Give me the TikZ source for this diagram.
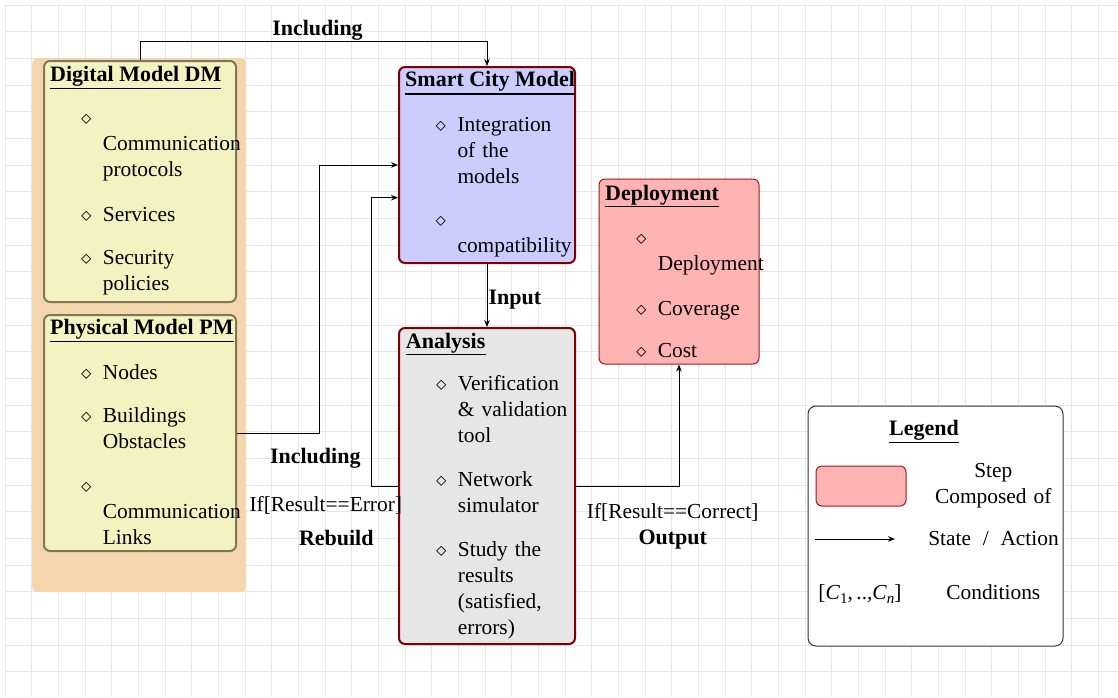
\documentclass[tikz,border=0pt]{standalone}
\usepackage{fontspec}
\setmainfont{Liberation Serif}
\usetikzlibrary{arrows.meta,calc}

\definecolor{gridgray}{HTML}{E6E6E6}
\definecolor{groupfill}{HTML}{F5D5AC}
\definecolor{modelfill}{HTML}{F3F3C1}
\definecolor{modeldraw}{HTML}{7D7A5A}
\definecolor{darkmaroon}{HTML}{7F0000}
\definecolor{cityfill}{HTML}{CCCCFF}
\definecolor{anafill}{HTML}{E6E6E6}
\definecolor{stepfill}{HTML}{FFB3B3}
\definecolor{stepdraw}{HTML}{A01818}
\definecolor{legenddraw}{HTML}{333333}

% hollow diamond hanging to the left of an item
\newcommand\diaitem{\llap{$\diamond$\hskip 11.5pt}}
% italic index written in text fonts
\newcommand\lowidx[1]{\raisebox{-4.5pt}{\fontsize{15}{15}\selectfont #1}}

\tikzset{
  gridline/.style={draw=gridgray, line width=1pt},
  box/.style={rectangle, rounded corners=6pt, anchor=north west, inner sep=0pt},
  groupbox/.style={box, fill=groupfill},
  modelbox/.style={box, fill=modelfill, draw=modeldraw, line width=2pt},
  citybox/.style={box, fill=cityfill, draw=darkmaroon, line width=2pt},
  anabox/.style={box, fill=anafill, draw=darkmaroon, line width=2pt},
  stepbox/.style={box, fill=stepfill, draw=stepdraw, line width=1pt},
  legendbox/.style={box, fill=white, draw=legenddraw, line width=1pt, rounded corners=8pt},
  ttl/.style={anchor=base west, inner sep=0pt, font=\fontsize{22}{26}\selectfont\bfseries},
  itm/.style={anchor=base west, inner sep=0pt, text width=170pt, align=left,
              font=\fontsize{21.4}{26}\selectfont},
  lbl/.style={anchor=base, inner sep=0pt, font=\fontsize{21.4}{26}\selectfont},
  blbl/.style={lbl, font=\fontsize{22}{26}\selectfont\bfseries},
  uline/.style={draw=black, line width=1.2pt},
  conn/.style={draw=black, line width=0.9pt, -{Stealth[length=7pt,width=5.5pt]}},
}

\begin{document}
\begin{tikzpicture}[x=1pt, y=-1pt]
  \useasboundingbox (0,0) rectangle (1118,697);
  \fill[white] (0,0) rectangle (1118,697);

  % background grid
  \foreach \i in {0,...,41} {\draw[gridline] ({5+26.667*\i},5) -- ({5+26.667*\i},697);}
  \foreach \j in {0,...,25} {\draw[gridline] (5,{5+26.667*\j}) -- (1118,{5+26.667*\j});}

  % ---- model group ----
  \node[groupbox, minimum width=214pt, minimum height=534pt] (group) at (32,58) {};

  \node[modelbox, minimum width=192pt, minimum height=241pt] (dm) at (43,60) {};
  \node[ttl] (dmt) at (50,81) {Digital Model DM};
  \draw[uline] ($(dmt.base west)+(0,7.3)$) -- ($(dmt.base east)+(0,7.3)$);
  \node[itm] (dm1) at (102.7,124.5) {\diaitem\\Communication\\protocols};
  \node[itm] (dm2) at (102.7,221) {\diaitem Services};
  \node[itm] (dm3) at (102.7,264) {\diaitem Security\\policies};

  \node[modelbox, minimum width=192pt, minimum height=236pt] (pm) at (43,314) {};
  \node[ttl] (pmt) at (50,334.3) {Physical Model PM};
  \draw[uline] ($(pmt.base west)+(0,7.3)$) -- ($(pmt.base east)+(0,7.3)$);
  \node[itm] (pm1) at (102.7,379) {\diaitem Nodes};
  \node[itm] (pm2) at (102.7,422.3) {\diaitem Buildings\\Obstacles};
  \node[itm] (pm3) at (102.7,492) {\diaitem\\Communication\\Links};

  % ---- smart city model ----
  \node[citybox, minimum width=176pt, minimum height=196pt] (scm) at (398,66) {};
  \node[ttl] (scmt) at (405,86.7) {Smart City Model};
  \draw[uline] ($(scmt.base west)+(0,7.3)$) -- ($(scmt.base east)+(0,7.3)$);
  \node[itm] (scm1) at (457.3,131.7) {\diaitem Integration\\of the\\models};
  \node[itm] (scm2) at (457.3,226) {\diaitem\\compatibility};

  % ---- analysis ----
  \node[anabox, minimum width=176pt, minimum height=316pt] (ana) at (398,327) {};
  \node[ttl] (anat) at (405.7,348.3) {Analysis};
  \draw[uline] ($(anat.base west)+(0,6.3)$) -- ($(anat.base east)+(0,6.3)$);
  \node[itm] (ana1) at (457.7,390.7) {\diaitem Verification\\\& validation\\tool};
  \node[itm] (ana2) at (457.7,486.7) {\diaitem Network\\simulator};
  \node[itm] (ana3) at (457.7,556) {\diaitem Study the\\results\\(satisfied,\\errors)};

  % ---- deployment ----
  \node[stepbox, minimum width=160pt, minimum height=185pt] (dep) at (598.5,178.5) {};
  \node[ttl] (dept) at (605,200) {Deployment};
  \draw[uline] ($(dept.base west)+(0,6.7)$) -- ($(dept.base east)+(0,6.7)$);
  \node[itm] (dep1) at (657.7,244.5) {\diaitem\\Deployment};
  \node[itm] (dep2) at (657.7,315) {\diaitem Coverage};
  \node[itm] (dep3) at (657.7,357.3) {\diaitem Cost};

  % ---- connectors ----
  \coordinate (rebuildin) at ($(scm.west)+(0,32.7)$);
  \draw[conn] (dm.north) -- ++(0,-18.3) -| (scm.north);
  \draw[conn] (pm.east) -- ++(82.7,0) |- (scm.west);
  \draw[conn] (ana.west) -- ++(-27,0) |- (rebuildin);
  \draw[conn] (scm.south) -- (ana.north);
  \draw[conn] (ana.east) -| (dep.south);

  \node[blbl] (inc1) at (317.5,35) {Including};
  \node[blbl] (inc2) at (315.3,463.3) {Including};
  \node[lbl] (err) at (325.8,511) {If[Result==Error]};
  \node[blbl] (rebuild) at (336.3,545.7) {Rebuild};
  \node[blbl, anchor=base west] (input) at (488.3,304) {Input};
  \node[lbl] (ok) at (672.7,518.3) {If[Result==Correct]};
  \node[blbl] (output) at (672.8,544.3) {Output};

  % ---- legend ----
  \node[legendbox, minimum width=255pt, minimum height=240pt] (legend) at (807.5,405.5) {};
  \node[blbl] (legt) at (924,435) {Legend};
  \draw[uline] ($(legt.base west)+(0,7.3)$) -- ($(legt.base east)+(0,7.3)$);
  \node[stepbox, minimum width=90pt, minimum height=40pt] (legstep) at (815.5,465.5) {};
  \node[lbl, text width=150pt, align=center] (legsteptxt) at (993.3,477.3) {Step\\Composed of};
  \coordinate (arrA) at (815,539);
  \coordinate (arrB) at (895,539);
  \draw[conn] (arrA) -- (arrB);
  \node[lbl] (legarr) at (993.5,545.7) {State\hspace{0.55em}/\hspace{0.55em}Action};
  \node[lbl] (legcond) at (860,599) {[\textit{C}\lowidx{1},\,..,\textit{C}\lowidx{\textit{n}}]};
  \node[lbl] (legcondtxt) at (993.3,599.3) {Conditions};
\end{tikzpicture}
\end{document}
